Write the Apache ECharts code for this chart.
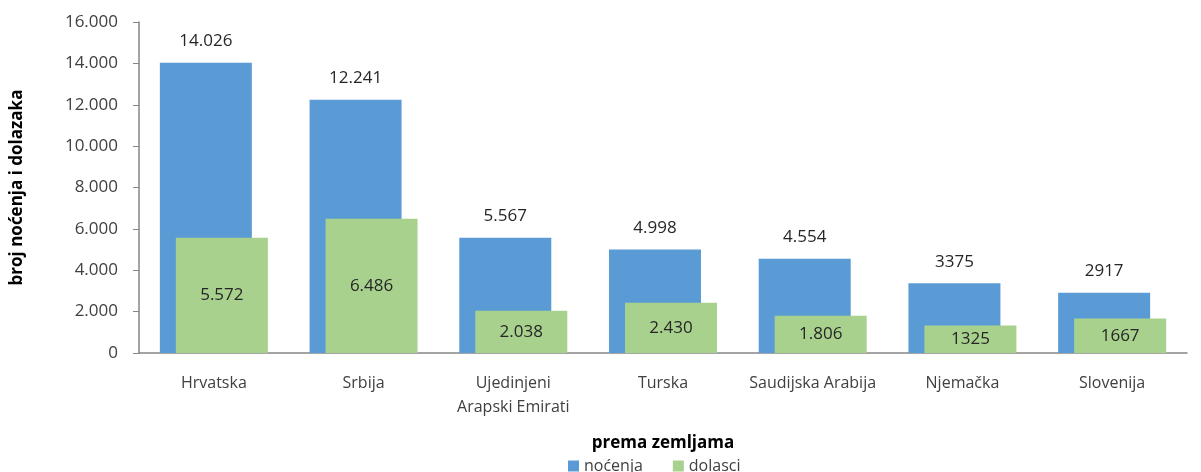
<!DOCTYPE html>
<html><head><meta charset="utf-8">
<script src="https://cdn.jsdelivr.net/npm/echarts@6/dist/echarts.min.js"></script>
<style>html,body{margin:0;padding:0;background:#fff}#c{width:1201px;height:472px}</style>
</head><body><div id="c"></div>
<script>
const categories = ['Hrvatska', 'Srbija', 'Ujedinjeni\nArapski Emirati', 'Turska', 'Saudijska Arabija', 'Njemačka', 'Slovenija'];
const nocenja = [14026, 12241, 5567, 4998, 4554, 3375, 2917];
const nocenjaLabels = ['14.026', '12.241', '5.567', '4.998', '4.554', '3375', '2917'];
const dolasci = [5572, 6486, 2038, 2430, 1806, 1325, 1667];
const dolasciLabels = ['5.572', '6.486', '2.038', '2.430', '1.806', '1325', '1667'];
const yTickLabels = {0:'0',2000:'2.000',4000:'4.000',6000:'6.000',8000:'8.000',10000:'10.000',12000:'12.000',14000:'14.000',16000:'16.000'};

const FONT = 'Open Sans';
const chart = echarts.init(document.getElementById('c'), null, {renderer:'canvas'});
chart.setOption({
  animation: false,
  textStyle: {fontFamily: FONT},
  grid: {left: 139, right: 14, top: 22, bottom: 119, containLabel: false},
  legend: {
    bottom: -7, left: 563, itemWidth: 11, itemHeight: 11, itemGap: 30,
    icon: 'rect',
    textStyle: {fontFamily: FONT, fontSize: 16, color: '#404040'},
    data: ['noćenja', 'dolasci']
  },
  xAxis: {
    type: 'category', data: categories,
    name: 'prema zemljama', nameLocation: 'middle', nameGap: 82,
    nameTextStyle: {fontFamily: FONT, fontSize: 17, fontWeight: 'bold', color: '#000'},
    axisLine: {lineStyle: {color: '#868686', width: 1.5}},
    axisTick: {show: false},
    axisLabel: {interval: 0, fontFamily: FONT, fontSize: 16, color: '#404040', margin: 18, lineHeight: 24}
  },
  yAxis: {
    type: 'value', min: 0, max: 16000, interval: 2000,
    name: 'broj noćenja i dolazaka', nameLocation: 'middle', nameGap: 113, nameRotate: 90,
    nameTextStyle: {fontFamily: FONT, fontSize: 17, fontWeight: 'bold', color: '#000'},
    axisLine: {show: true, lineStyle: {color: '#868686', width: 1.5}},
    axisTick: {show: true, length: 6, lineStyle: {color: '#868686'}},
    splitLine: {show: false},
    axisLabel: {fontFamily: FONT, fontSize: 17, color: '#404040', margin: 21,
      formatter: v => yTickLabels[v] !== undefined ? yTickLabels[v] : String(v)}
  },
  series: [
    {
      name: 'noćenja', type: 'bar', data: nocenja, barWidth: 92, barGap: '-82.6%',
      itemStyle: {color: '#5B9BD5'},
      label: {show: true, position: 'top', distance: 13, fontFamily: FONT, fontSize: 17, color: '#262626',
        formatter: p => nocenjaLabels[p.dataIndex]}
    },
    {
      name: 'dolasci', type: 'bar', data: dolasci, barWidth: 92,
      itemStyle: {color: '#A9D18E'},
      label: {show: true, position: 'inside', fontFamily: FONT, fontSize: 17, color: '#262626',
        formatter: p => dolasciLabels[p.dataIndex]}
    }
  ]
});
</script></body></html>
